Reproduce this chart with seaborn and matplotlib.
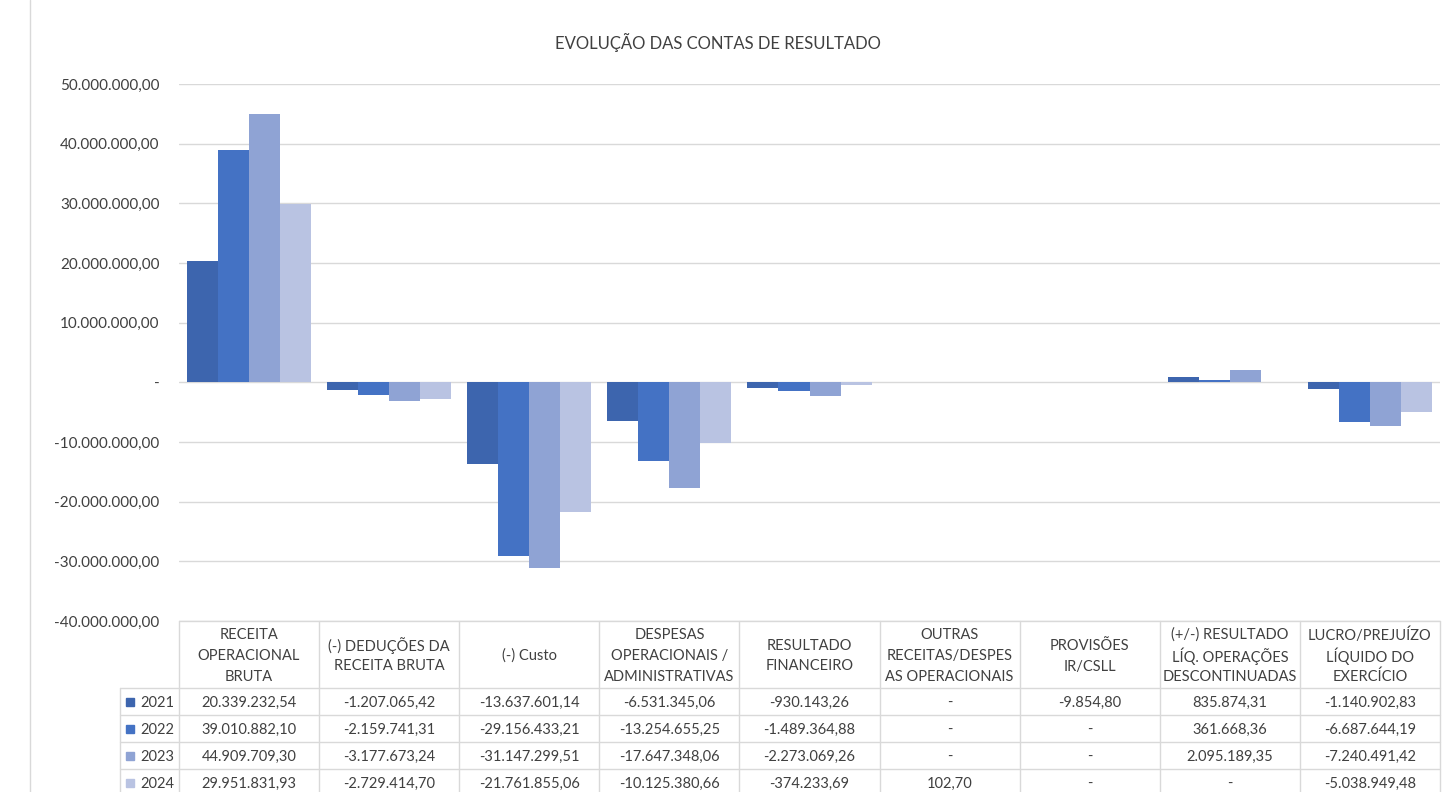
import matplotlib.pyplot as plt
import seaborn as sns
import pandas as pd
import numpy as np

nan = np.nan

categories = [
    "RECEITA\nOPERACIONAL\nBRUTA",
    "(-) DEDUÇÕES DA\nRECEITA BRUTA",
    "(-) Custo",
    "DESPESAS\nOPERACIONAIS /\nADMINISTRATIVAS",
    "RESULTADO\nFINANCEIRO",
    "OUTRAS\nRECEITAS/DESPES\nAS OPERACIONAIS",
    "PROVISÕES\nIR/CSLL",
    "(+/-) RESULTADO\nLÍQ. OPERAÇÕES\nDESCONTINUADAS",
    "LUCRO/PREJUÍZO\nLÍQUIDO DO\nEXERCÍCIO",
]
years = ["2021", "2022", "2023", "2024"]
v2021 = [20339232.54, -1207065.42, -13637601.14, -6531345.06, -930143.26, nan, -9854.80, 835874.31, -1140902.83]
v2022 = [39010882.10, -2159741.31, -29156433.21, -13254655.25, -1489364.88, nan, nan, 361668.36, -6687644.19]
v2023 = [44909709.30, -3177673.24, -31147299.51, -17647348.06, -2273069.26, nan, nan, 2095189.35, -7240491.42]
v2024 = [29951831.93, -2729414.70, -21761855.06, -10125380.66, -374233.69, 102.70, nan, nan, -5038949.48]
yticks = [-40e6, -30e6, -20e6, -10e6, 0, 10e6, 20e6, 30e6, 40e6, 50e6]
colors = ["#3D65AE", "#4472C4", "#8FA3D4", "#B9C3E2"]

series = [v2021, v2022, v2023, v2024]
df = pd.DataFrame({
    "categoria": np.tile(categories, len(years)),
    "ano": np.repeat(years, len(categories)),
    "valor": np.concatenate(series),
})


def fmt_br(v):
    if pd.isna(v):
        return "-"
    s = f"{v:,.2f}"
    return s.replace(",", "X").replace(".", ",").replace("X", ".")


sns.set_theme(style="white")
plt.rcParams['font.family'] = ['Lato', 'DejaVu Sans']

W, H = 1444, 792
fig = plt.figure(figsize=(W / 100, H / 100), dpi=100)


def fx(x):
    return x / W


def fy(y):
    return 1 - y / H


left, right, top, bottom = 179, 1440, 84, 621
ax = fig.add_axes([fx(left), fy(bottom), fx(right) - fx(left), fy(top) - fy(bottom)])

sns.barplot(data=df, x="categoria", y="valor", hue="ano", order=categories,
            hue_order=years, palette=colors, saturation=1, width=0.886,
            errorbar=None, linewidth=0, legend=False, ax=ax)

ax.set_ylim(-40e6, 50e6)
ax.set_xlim(-0.5, len(categories) - 0.5)
ax.set_yticks(yticks)
ax.set_yticklabels(["-" if t == 0 else fmt_br(t) for t in yticks], fontsize=11, color="#404040")
ax.set_xticks([])
ax.set_xlabel("")
ax.set_ylabel("")
ax.tick_params(axis="y", length=0, pad=14)
ax.grid(axis="y", color="#D9D9D9", linewidth=1)
ax.set_axisbelow(True)
for s in ax.spines.values():
    s.set_visible(False)

fig.text(fx(718), fy(42), "EVOLUÇÃO DAS CONTAS DE RESULTADO", ha="center", va="center",
         fontsize=12, color="#404040")

# outer chart border
fig.add_artist(plt.Line2D([fx(30), fx(30)], [0, 1], color="#D9D9D9", lw=1))

# data table
lc = "#D9D9D9"
colw = (right - left) / len(categories)
rows_y = [688, 715, 742, 769, 796]
fig.add_artist(plt.Line2D([fx(left), fx(right)], [fy(bottom), fy(bottom)], color=lc, lw=1))
for y in rows_y:
    fig.add_artist(plt.Line2D([fx(120), fx(right)], [fy(y), fy(y)], color=lc, lw=1))
for i in range(len(categories) + 1):
    x = left + i * colw
    fig.add_artist(plt.Line2D([fx(x), fx(x)], [fy(bottom), 0], color=lc, lw=1))
fig.add_artist(plt.Line2D([fx(120), fx(120)], [fy(688), 0], color=lc, lw=1))

line_h = 21
hdr_mid = (bottom + 688) / 2
for i, cat in enumerate(categories):
    cx = left + (i + 0.5) * colw
    lines = cat.split("\n")
    y0 = hdr_mid - (len(lines) - 1) * line_h / 2
    for k, ln in enumerate(lines):
        fig.text(fx(cx), fy(y0 + k * line_h), ln, ha="center", va="center_baseline",
                 fontsize=10.5, color="#404040")
    for r, vals in enumerate(series):
        cy = (rows_y[r] + rows_y[r + 1]) / 2
        fig.text(fx(cx), fy(cy), fmt_br(vals[i]), ha="center", va="center_baseline",
                 fontsize=10.5, color="#404040")

for r, yr in enumerate(years):
    cy = (rows_y[r] + rows_y[r + 1]) / 2
    fig.add_artist(plt.Rectangle((fx(126), fy(cy + 4)), fx(8), 8 / H,
                                 color=colors[r], transform=fig.transFigure))
    fig.text(fx(140), fy(cy), yr, ha="left", va="center_baseline", fontsize=10.5, color="#404040")

fig.savefig("out.png", dpi=100, facecolor="white")
plt.close(fig)
